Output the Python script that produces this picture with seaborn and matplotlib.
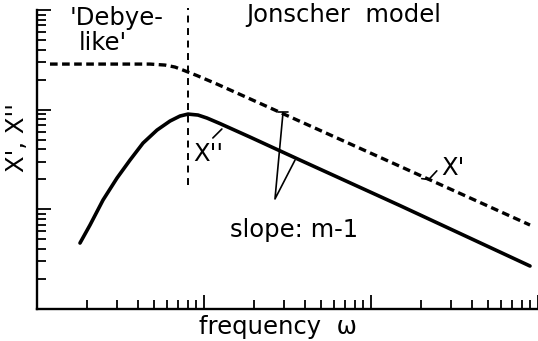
import matplotlib
matplotlib.use("Agg")
import matplotlib.pyplot as plt
import seaborn as sns
import pandas as pd

# Real part chi' (dashed): flat plateau, then power-law decay
freq_real = [1.196, 2.384, 4.751, 5.842, 6.706, 7.486, 9.080, 11.96,
             18.86, 37.6, 149.2, 895.6]
chi_real = [286.7, 286.7, 286.7, 280.2, 267.6, 249.6, 219.8, 180.6,
            128.3, 76.3, 27.0, 6.96]

# Imaginary part chi'' (solid): Debye-like rise, peak, Jonscher decay
freq_imag = [1.809, 2.077, 2.485, 3.013, 3.605, 4.313, 5.231, 6.259, 7.182,
             8.020, 9.206, 10.42, 12.47, 18.86, 37.6, 149.2, 895.6]
chi_imag = [4.59, 6.96, 12.40, 20.6, 31.2, 46.2, 62.4, 76.9, 86.3,
            90.3, 88.3, 82.4, 72.5, 53.1, 31.2, 10.9, 2.70]

# Boundary between the two regimes (loss peak frequency)
peak_freq = 8.0
boundary_span = [17.5, 1046]

x_limits = [1, 1000]
y_limits = [1, 1000]

sns.set_theme(style="ticks")
plt.rcParams["font.family"] = ["DejaVu Sans"]
plt.rcParams["text.color"] = "black"
plt.rcParams["lines.scale_dashes"] = False

fig = plt.figure(figsize=(5.38, 3.41), dpi=100)
ax = fig.add_axes([37 / 538, 32 / 341, 501 / 538, 299 / 341])

df_real = pd.DataFrame({"freq": freq_real, "chi": chi_real})
df_imag = pd.DataFrame({"freq": freq_imag, "chi": chi_imag})

sns.lineplot(data=df_real, x="freq", y="chi", ax=ax, color="black",
             linewidth=2.4, linestyle=(0, (5.5, 3.2)), sort=False,
             estimator=None)
sns.lineplot(data=df_imag, x="freq", y="chi", ax=ax, color="black",
             linewidth=2.6, sort=False, estimator=None,
             solid_capstyle="round", solid_joinstyle="round")
ax.plot([peak_freq, peak_freq], boundary_span, color="black",
        linewidth=1.4, linestyle=(0, (5, 4)), clip_on=False)

ax.set_xscale("log")
ax.set_yscale("log")
ax.set_xlim(x_limits)
ax.set_ylim(y_limits)

for side in ("top", "right"):
    ax.spines[side].set_visible(False)
for side in ("left", "bottom"):
    ax.spines[side].set_linewidth(1.7)
    ax.spines[side].set_color("black")
    ax.spines[side].set_capstyle("projecting")

ax.tick_params(which="major", direction="in", length=10, width=1.3,
               color="black", labelleft=False, labelbottom=False)
ax.tick_params(which="minor", direction="in", length=6.5, width=1.3,
               color="black", labelleft=False, labelbottom=False)
ax.set_xlabel("")
ax.set_ylabel("")

fs = 17.5
txt = dict(transform=ax.transAxes, fontsize=fs, color="black",
           clip_on=False)
ax.text(0.066, 0.973, "'Debye-", ha="left", va="center", **txt)
ax.text(0.084, 0.890, "like'", ha="left", va="center", **txt)
ax.text(0.417, 0.983, "Jonscher  model", ha="left", va="center", **txt)
ax.text(0.343, 0.518, "X''", ha="center", va="center", **txt)
ax.text(0.830, 0.470, "X'", ha="center", va="center", **txt)
ax.text(0.513, 0.264, "slope: m-1", ha="center", va="center", **txt)
ax.text(0.481, -0.060, "frequency  ω", ha="center", va="center", **txt)
ax.text(-0.040, 0.572, "X', X''", ha="center", va="center", rotation=90,
        **txt)

# Leader strokes pointing at the curves
lead = dict(transform=ax.transAxes, color="black", linewidth=1.2,
            clip_on=False)
ax.plot([0.351, 0.369], [0.572, 0.602], **lead)
ax.plot([0.768, 0.782, 0.798], [0.436, 0.433, 0.462], **lead)
ax.plot([0.491, 0.475, 0.515], [0.656, 0.368, 0.498], **lead)
ax.plot([0.482, 0.500], [0.659, 0.659], **lead)

fig.savefig("out.png", dpi=100, facecolor="white")
